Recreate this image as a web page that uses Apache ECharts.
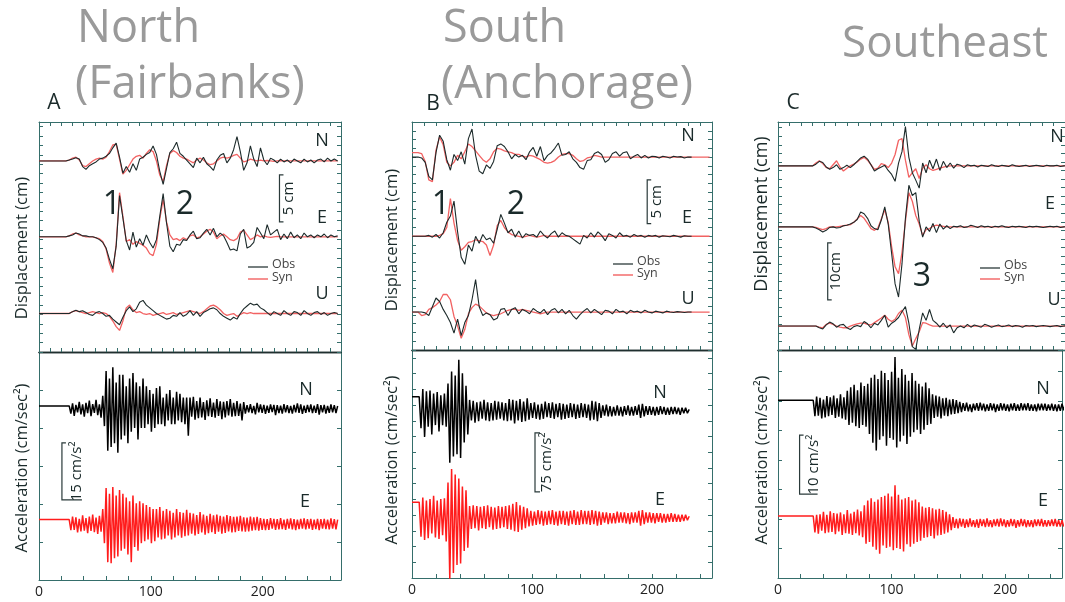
<!DOCTYPE html>
<html><head><meta charset="utf-8">
<script src="https://cdn.jsdelivr.net/npm/echarts@6/dist/echarts.min.js"></script>
<style>html,body{margin:0;padding:0;background:#fff}#c{width:1065px;height:602px}</style>
</head><body><div id="c"></div>
<script>
// ---------------- DATA ----------------
const titles = [["North", "(Fairbanks)"], ["South", "(Anchorage)"], ["Southeast"]];
const panelLetters = ["A", "B", "C"];
const xTickLabels = [0, 100, 200];
const dispLabels = ["N", "E", "U"];
const accLabels = ["N", "E"];
const phaseLabels = [["1", "2"], ["1", "2"], ["3"]];
const dispTitle = "Displacement (cm)";
const accTitle = "Acceleration (cm/sec\u00B2)";
const legendNames = ["Obs", "Syn"];
const scaleTexts = ["5 cm", "15 cm/s\u00B2", "5 cm", "75 cm/s\u00B2", "10cm", "10 cm/s\u00B2"];
const scaleValues = [5, 15, 5, 75, 10, 10];

// Displacement (cm), sampled every 3 s
const dispStartA = 24, dispStepA = 3;
const A_N_obs = [0,0.1,0.2,0.35,0.2,-0.6,-0.9,-0.5,-0.3,-0.1,0.2,0.3,0.5,0.8,1.4,1.9,0.4,-1.3,-0.6,-1.2,-0.3,-1.0,0.2,0.4,0.7,0.9,1.6,0.7,-1.1,-2.5,-0.8,0.9,1.3,2.0,0.8,0.5,0.1,-0.3,-0.7,0.3,-0.2,0.4,-0.3,-0.6,-1.0,0.1,0.6,0.8,-0.2,0.3,1.2,2.6,1.0,-1.0,-0.2,1.6,0.2,-0.6,1.4,0.1,-0.4,0.3,0.1,-0.2,0.2,-0.1,0.1,-0.2,0.2,0,-0.2,0.2,-0.1,0.1,-0.2,0.1,0.2,-0.1,0.3,0,0.2,0];
const A_N_syn = [0,0.1,0.3,0.4,0.1,-0.5,-0.6,-0.3,0,0.2,0.3,0.2,0.4,1.0,1.7,1.8,0.2,-1.4,-1.0,-0.4,0.2,0.5,0.6,0.3,0.8,1.2,1.0,0,-1.5,-2.2,-0.5,0.8,1.1,0.9,0.5,0.3,0.2,0,-0.2,0.1,0.3,0.1,-0.2,-0.4,-0.3,0,0.3,0.4,0.3,0.4,0.6,0.7,0.3,-0.1,0,0.2,0.1,0,0.1,0,0.05,0,-0.05,0,0.05,0,0,0,0,0,0,0,0,0,0,0,0,0,0,0,0,0];
const A_E_obs = [0,0.1,0.2,0.4,0.3,0.1,0.1,0,0,-0.1,-0.3,-0.6,-1.2,-2.4,-3.4,-1.0,4.4,2.0,-0.4,-1.4,0.5,-1.1,-0.2,-0.9,0.2,-0.6,-1.2,-0.3,2.2,4.6,1.5,-1.0,-1.6,-0.8,-0.9,-0.3,-0.4,0.2,0.6,-0.2,-0.1,0.4,0.8,0.2,0.9,0,0.4,0.1,-0.6,-1.4,-1.3,-1.5,0.3,0.8,-1.2,-1.0,-0.6,1.0,0.4,-0.2,1.3,0.2,0.5,0.8,-0.3,0.3,-0.2,0.5,-0.1,0.2,-0.2,0.4,0,0.2,-0.1,0.2,0,0.3,-0.1,0.2,0,0.1];
const A_E_syn = [0,0.1,0.3,0.4,0.2,0.1,0,0,0,-0.1,-0.2,-0.5,-1.3,-2.8,-3.8,-0.8,4.7,2.2,-0.5,-0.3,-0.8,-0.5,-0.7,-0.9,-1.2,-1.8,-2.0,-0.8,1.9,4.0,1.6,0.2,-0.3,-0.2,-0.4,-0.1,-0.3,0.1,0.2,-0.1,0,0.3,0.6,0.8,0.5,-0.2,0.1,0.3,0,-0.3,-0.4,-0.2,0.5,0.7,0.2,-0.3,-0.1,0.2,0,0.1,0,-0.05,0,0.05,0,0,0,0,0,0,0,0,0,0,0,0,0,0,0,0,0,0];
const A_U_obs = [0,0,0.2,0.35,0.2,0.3,0.1,-0.1,-0.2,0.1,0.2,0,-0.3,-0.2,-0.6,-0.9,-1.2,-0.4,0.3,0.7,0.2,0.5,1.2,1.4,0.9,0.6,0.3,0,-0.2,-0.4,-0.6,-0.5,-0.2,-0.3,0.1,-0.3,-0.1,0.3,-0.2,0.2,-0.3,0.1,0.3,0.5,0.6,0.4,0,-0.3,-0.5,-0.7,-0.4,-0.6,0,0.5,0.8,1.1,0.9,1.0,0.6,0.4,0.1,-0.2,0.2,0,-0.2,0.3,0,-0.2,0.2,0.1,-0.2,0.3,0,-0.2,0.1,0.2,-0.1,0.1,-0.2,0,0.1,0];
const A_U_syn = [0,0,0.2,0.3,0.2,0.1,0,0.1,0.2,0.1,0,0.1,0,-0.3,-0.8,-1.4,-1.8,-0.8,0.6,0.9,0.4,0.1,0.2,0,-0.1,0,-0.2,-0.1,0,0.1,-0.1,0,0.1,-0.1,0,0.1,0.2,0.3,0.2,0.1,0,0.2,0.5,0.8,0.9,0.7,0.4,0,-0.2,-0.1,0,-0.3,-0.1,0.1,0,0.1,0,0,0,0,0,0,0,0,0,0,0,0,0,0,0,0,0,0,0,0,0,0,0,0,0,0];

const dispStartB = 5, dispStepB = 3;
const B_N_obs = [0,-0.1,-0.6,-2.2,-2.6,0.5,2.5,1.8,-0.3,-1.5,0.3,-0.4,0.6,-0.8,2.1,3.2,0.2,-1.6,-1.9,-0.9,-1.3,-0.5,1.3,1.5,1.2,0.6,-0.2,0.3,0,0.2,-0.3,0.6,1.1,0.1,1.2,-0.4,0.2,0.5,1.0,1.6,0.2,0.3,0.6,-0.2,-0.6,-1.2,-1.4,-0.4,-0.3,0.4,0.6,0.3,-0.6,-0.3,0.4,0.6,0.1,0.5,0.6,-0.2,0.1,0.3,-0.1,0.2,-0.1,0.1,0.05,-0.1,0.1,0,-0.1,0.1,0,0.05,-0.1,0,0];
const B_N_syn = [0.5,0.4,-0.5,-2.6,-2.8,0.8,2.3,1.4,-0.6,-1.0,-0.6,0.2,-0.2,0.6,1.5,1.2,0.7,0.2,-0.3,-0.6,-0.2,0.6,1.0,0.9,0.7,0.6,0.5,0.3,0.3,0.1,0,0.2,0.1,-0.1,-0.3,-0.6,-0.7,-0.6,-0.4,0,0.3,0.4,0.4,0.2,-0.2,-0.5,-0.4,-0.1,0,0.2,0.1,0,0,0,0,0,0,0,0,0,0,0,0,0,0,0,0,0,0,0,0,0,0,0,0,0,0,0,0,0,0,0];
const B_E_obs = [0,0,0,0.1,-0.1,0.2,-0.2,0.4,1.6,2.3,4.0,0.5,-2.4,-3.2,-1.0,-1.7,0,-0.8,0.2,-0.4,-0.2,-0.8,0.8,2.5,1.5,0.4,0.8,-0.1,0.6,-0.2,0.3,0.1,0.2,-0.1,0.6,0.1,-0.2,0.3,0.6,-0.1,0.4,0.1,0,-0.3,-0.6,-0.9,0.1,-0.2,0.4,-0.1,0.5,0.1,-0.5,0.3,0.1,-0.2,0.4,0,0.1,-0.1,0.2,0,0.1,-0.1,0.1,0,0.1,-0.1,0.05,0,-0.05,0.1,0,-0.1,0.05,0,0];
const B_E_syn = [0,0,0,0,0,0,0.1,0.3,1.0,4.3,1.5,-0.5,-1.6,-1.2,-0.7,-0.6,-0.4,-0.5,-0.6,-1.0,-2.2,-1.0,1.2,1.8,1.0,0.5,0.2,0.1,0,-0.1,0,0.1,0,-0.1,0,0.1,0,0,0,0,0,0,0,0,0,0,0,0,0,0,0,0,0,0,0,0,0,0,0,0,0,0,0,0,0,0,0,0,0,0,0,0,0,0,0,0,0,0,0,0,0,0];
const B_U_obs = [0,0,-0.1,-0.4,0.6,1.6,1.2,0.3,-0.4,-1.2,-2.4,-0.8,-2.7,-1.2,-0.4,1.4,3.7,0.6,-0.4,-0.1,-0.3,-0.9,-0.7,0.3,0.4,-0.4,0.3,0.5,-0.2,0.3,0.1,-0.2,0.4,0.1,-0.1,0.3,-0.3,0.2,0.4,-0.1,0.3,-0.2,0.2,-0.4,-0.8,-0.3,0.1,0.4,-0.1,0.3,0,-0.3,0.2,0.1,-0.2,0.3,0,0.1,-0.2,0.2,0,0.1,-0.1,0.2,0,-0.1,0.1,0,-0.1,0.1,0,-0.05,0.05,0,-0.05,0,0];
const B_U_syn = [0,-0.4,-0.3,0.3,0.5,0.8,1.2,2.0,2.0,1.4,-0.5,-1.6,-3.0,-2.0,-0.2,0.5,0.9,0.7,0.3,-0.1,-0.3,-0.4,-0.3,-0.2,0,0.2,0.3,0.3,0.2,0.3,0.2,0.1,0,-0.1,-0.2,-0.1,0,0,0,0,0,0,0,0,0,0,0,0,0,0,0,0,0,0,0,0,0,0,0,0,0,0,0,0,0,0,0,0,0,0,0,0,0,0,0,0,0,0,0,0,0,0];

const dispStartC = 30, dispStepC = 3;
const C_N_obs = [0,0.3,0.8,0.6,-0.2,-0.6,-0.3,0.2,-0.6,-0.3,0.1,-0.3,0.2,0.8,1.4,1.7,1.2,0.2,-0.9,-0.5,-0.2,0.1,-0.8,-1.5,-2.7,0.5,2.5,6.9,1.5,-1.2,-2.5,-3.9,0.5,-1.2,1.0,-0.5,1.2,-0.8,0.8,-0.3,0.5,-0.4,0.3,0.1,-0.3,0.2,0,0.1,-0.2,0.1,0,-0.1,0.2,0,-0.1,0.1,0,-0.1,0.2,0,-0.1,0,0.1,-0.1,0,0.1,0,-0.1,0.1,0,0,0.1,-0.1,0,0.1];
const C_N_syn = [0,0.5,0.9,0.4,-0.3,-0.5,0.2,0.9,-0.2,-0.9,-0.4,0,0.3,0.7,1.2,1.5,1.0,0.2,-0.6,-0.4,0.4,0.2,-0.3,0.5,2.0,4.5,4.8,1.0,-2.0,-1.2,-0.5,-2.2,-0.4,0.2,-0.5,-0.8,-0.6,-0.4,-0.2,-0.1,0,0,0,0,0,0,0,0,0,0,0,0,0,0,0,0,0,0,0,0,0,0,0,0,0,0,0,0,0,0,0,0,0,0,0];
const C_E_obs = [0,-0.2,-0.5,-0.9,-0.6,-0.1,0,-0.2,-0.1,0.2,0.3,0.5,0.8,1.3,2.6,2.3,1.5,0.2,-0.3,-0.5,1.2,3.5,0.5,-4.7,-10.0,-12.3,-6.5,1.5,7.3,5.5,6.0,1.0,-1.8,0,-0.8,0.6,-1.0,0.5,-0.4,0.2,-0.3,0.1,0,0.2,-0.1,0,0.3,0.1,-0.1,0.2,0,0.1,-0.1,0.1,0,0.2,0,-0.1,0.1,0,0.1,0,-0.1,0.1,0,0.1,0,-0.1,0,0.1,0,0.1,-0.1,0,0.1];
const C_E_syn = [0,-0.1,-0.3,-0.5,-0.3,0,0,0,0.1,0.2,0.3,0.4,0.8,1.4,2.0,1.5,0.6,-0.3,-0.6,-0.2,1.4,3.0,0.8,-3.5,-7.0,-8.2,-4.5,1.0,6.0,4.5,2.0,0.5,-1.5,-0.5,-0.3,0.1,0.3,0.2,0.1,0,0,0,0,0,0,0,0,0,0,0,0,0,0,0,0,0,0,0,0,0,0,0,0,0,0,0,0,0,0,0,0,0,0,0,0];
const C_U_obs = [0,0,-0.3,-0.5,0.2,0.7,0.4,-0.2,0.2,0.3,-0.3,-0.6,-0.1,0.1,-0.1,0.8,0.4,-0.3,0.5,0.2,1.0,1.9,-0.2,0.5,0.9,1.5,2.5,3.4,0.5,-3.6,-4.1,-0.6,2.3,1.0,2.9,1.0,0.5,-0.2,0.5,-0.3,0.2,-1.2,-0.3,0,-0.3,0.3,-0.2,0.2,0,-0.2,0.3,0.1,-0.2,0,0.2,-0.1,0,0.2,-0.1,0.1,0,-0.2,0.1,0,0.1,-0.1,0,0.1,0,-0.1,0,0.1,-0.1,0,0.1];
const C_U_syn = [0,0,-0.2,-0.3,0.3,0.5,0.3,0,-0.2,-0.3,-0.3,0,0.2,0.4,0.5,0.5,0.3,0.2,0.6,1.0,1.4,1.9,1.2,0.8,1.2,2.2,2.8,1.5,-1.5,-3.5,-2.2,-1.0,0.6,0.5,0.2,0,0,0,0,0,0,0,0,0,0,0,0,0,0,0,0,0,0,0,0,0,0,0,0,0,0,0,0,0,0,0,0,0,0,0,0,0,0,0,0];

// Acceleration (cm/s^2), sampled every 1.5 s
const accStep = 1.5;
const accStartA = 27, accStartB = 6, accStartC = 31;
const A_acc_N = [0.8,-1.2,1.5,-1.8,1.1,-0.9,1.9,-1.4,1.2,-2.0,1.6,-1.1,2.2,-1.9,1.3,-1.0,2.4,-1.6,1.2,-2.3,
  3.5,-4.5,
  10,-11,8,-10,11,-9,7,-11.5,9,-8,
  9,-7,6,-9,8,-6,9.5,-5,7,-8,6,-5,8,
  -5,6,-4,5,-6,4,-5,5.5,-4,6,
  -4,3,-4.5,4,-3,5,-4,3,-4,4.5,-3,4,-3.5,3,-4,3,-7,
  3,-2,3.2,-2.8,2.1,-2.4,3,-2.2,1.8,-2.9,2.3,-1.9,2.8,-2.1,1.7,-2.3,2.6,-1.8,2.0,-2.7,1.9,-2.2,2.1,-1.7,2.6,-2.0,1.6,-1.9,2.1,-1.8,1.4,-3.0,1.8,
  -1.2,1.0,-0.9,1.3,-1.1,0.8,-1.4,1.6,-0.9,1.2,-1.0,1.1,-1.3,0.9,-1.0,1.2,-0.8,1.1,-1.6,1.0,-1.1,0.9,-1.2,1.3,-0.9,1.0,-1.1,0.8,-1.2,1.1,-0.9,1.5,-1.0,1.2,-1.3,0.9,-1.0,1.1,-0.8,1.2,-1.1,0.9,-1.0,1.3,-1.5,1.0,-0.9,1.1,-1.2,0.8,-1.0,1.2,-0.9,1.0,-1.1,0.8];
const A_acc_E = [1.2,-1.6,2.0,-1.5,1.8,-2.2,1.4,-1.9,2.3,-1.7,1.6,-2.4,2.0,-1.8,2.5,-2.1,1.7,-2.6,2.2,-2.0,
  4,-5,
  9.5,-10,8,-10.3,9.8,-9,7.5,-8.5,9,-7,
  8,-6.5,7,-8,6,-10,7.5,-6,5.5,-7,6,-5,5.5,
  -4.5,5,-4,4.5,-5,4,-4.5,4,-3.5,4.5,
  -4,3.5,-3.8,4,-3,3.5,-4,3,-3.5,4,-3,3.2,-3.6,3,-3.2,3.8,-3,
  3,-2.5,2.8,-3,2.4,-2.6,3.2,-2.2,2.5,-2.8,2.2,-2.4,2.7,-2.1,2.3,-2.6,2.5,-2.0,2.2,-2.5,2.0,-2.3,2.4,-1.9,2.1,-2.2,1.9,-2.1,2.0,-1.8,2.2,-1.9,1.8,-2.0,1.7,-1.9,2.0,-1.7,1.8,-1.6,1.9,-1.7,1.6,
  -1.5,1.4,-1.6,1.3,-1.5,1.6,-1.2,1.4,-1.5,1.3,-1.4,1.6,-1.3,1.2,-1.5,1.4,-1.2,1.5,-1.4,1.3,-1.6,1.2,-1.3,1.4,-1.2,1.5,-1.4,1.3,-1.2,1.4,-1.5,1.2,-1.3,1.4,-1.6,1.3,-1.2,1.4,-1.3,1.2,-1.4,1.5,-1.2,1.3,-1.4,1.2];
const B_acc_N = [18,-22,28,-33,25,-20,26,-30,22,-18,24,-26,20,
  -18,22,-20,
  35,-66,50,-58,45,-55,65,-60,48,
  -40,32,-30,
  14,-12,13,-15,11,-13,12,-10,14,-12,11,-13,10,-12,13,-11,12,-10,11,-12,10,
  -13,15,-12,14,-16,13,-12,15,-14,12,-13,16,-11,
  10,-9,11,-10,8,-11,9,-10,12,-8,10,-9,11,-10,9,-8,10,-11,9,-10,8,-9,10,-8,9,-10,8,-9,10,-8,9,-9,8,
  -12,13,-11,12,-13,10,-9,
  7,-6,8,-7,6,-7,5,-6,7,-6,5,-7,6,-5,7,-6,5,-6,6,-5,8,-9,9,-7,6,-5,6,-5,5,-6,5,-5,6,-4,5,-5,4,-5,5,-4,5,-4,4,-5,4,-3,4,-3,2];
const B_acc_E = [20,-24,26,-28,22,-26,24,-20,28,-25,22,-27,24,
  -22,25,-30,
  45,-79,62,-70,55,-60,50,-58,40,
  -42,35,-38,
  15,-14,16,-13,15,-16,14,-13,15,-14,16,-12,14,-15,13,-14,15,-13,14,-12,15,
  -14,16,-15,18,-17,20,-18,16,-15,14,-13,12,-11,
  9,-10,8,-9,10,-8,9,-10,8,-9,9,-8,10,-9,8,-10,9,-8,9,-9,8,-10,9,-8,10,-9,8,-9,10,-8,9,-8,9,
  -9,10,-8,9,-10,8,-9,
  7,-6,7,-8,6,-7,6,-7,8,-6,7,-6,7,-7,6,-8,7,-6,7,-6,9,-10,10,-8,7,-6,7,-6,6,-7,6,-5,6,-6,5,-6,5,-5,6,-5,5,-5,4,-5,4,-4,4,-3,2];
const C_acc_N = [1.2,-1.5,1.8,-1.4,1.6,-1.9,1.3,-1.7,1.9,-1.5,1.7,-1.3,2.0,-1.8,1.5,-1.6,2.2,-1.9,1.7,-2.1,
  2.8,-3.0,3.4,-2.6,3.8,-3.2,2.9,-3.5,4.2,-3.0,3.6,-3.3,4.0,
  -4.5,5.0,-6.0,5.5,-7.3,4.8,-5.5,6.2,-4.9,5.8,-6.5,4.6,-5.2,6.0,-5.5,8.5,-6.8,5.0,-5.8,6.5,-4.8,5.5,-6.2,4.5,-5.0,5.8,-4.2,
  4.5,-3.8,4.0,-4.5,3.5,-3.8,4.2,-3.0,3.2,-2.8,
  2.2,-1.8,2.0,-1.6,1.8,-1.9,1.5,-1.4,1.6,-1.5,1.3,-1.2,1.4,-1.1,1.2,-1.0,0.9,
  -0.8,0.7,-0.6,0.8,-0.7,0.5,-0.8,0.6,-0.5,0.7,-0.6,0.8,-0.5,0.6,-0.7,0.5,-0.6,0.7,-0.5,0.6,-0.8,0.5,-0.6,0.7,-0.5,0.6,-0.6,0.5,-0.7,0.6,-0.5,0.7,-0.6,0.5,-0.6,0.7,-0.5,0.6,-0.5,0.7,-0.6,0.5,-0.6,0.5,-0.7,0.6,-0.5,0.6,-0.5,0.6,-0.6,0.5,-0.5,0.6,
  -0.6,0.5,-0.7,0.5,-0.6,0.6,-0.5,0.6,-0.5,0.5];
const C_acc_E = [1.2,-1.6,1.4,-1.8,1.5,-1.3,1.9,-1.7,1.4,-1.6,2.0,-1.5,1.7,-1.9,1.6,-1.4,1.8,-2.0,1.5,-1.7,2.2,-1.8,1.6,-2.0,1.9,-1.7,2.3,-2.1,2.0,-2.4,
  3.0,-3.5,3.8,-3.2,4.2,-4.0,3.6,-4.5,4.0,-5.2,4.4,-3.8,4.6,-4.2,5.0,-4.0,4.5,-4.6,6.4,-4.2,4.8,-4.4,4.0,-4.8,4.2,-3.6,4.4,-4.0,3.8,-3.5,4.0,-3.2,3.5,-3.0,
  2.8,-2.5,2.6,-2.4,2.7,-2.2,2.5,-2.6,2.3,-2.1,2.4,-2.0,2.2,-1.8,1.9,-1.6,1.5,-1.2,1.0,
  -0.8,0.7,-0.9,0.8,-0.6,0.7,-0.8,0.6,-0.7,0.8,-0.6,0.5,-0.7,0.6,-0.8,0.7,-0.5,0.6,-0.7,0.8,-0.6,0.5,-0.7,0.6,-0.5,0.7,-0.6,0.8,-0.5,0.6,-0.7,0.5,-0.6,0.7,-0.5,0.6,-0.8,0.5,-0.6,0.7,-0.5,0.6,-0.7,0.5,-0.6,0.5,-0.7,0.6,-0.5,0.6,-0.5,0.7,-0.6,0.5,-0.6,0.5,-0.5,
  0.6,-0.5,0.7,-0.6,0.5,-0.6,0.5,-0.6];

// ---------------- LAYOUT / STYLE ----------------
const FONT = '"Open Sans", "DejaVu Sans", sans-serif';
const BOX = '#356e6b', SEP = '#1f2f2f';
const OBS = '#1c2a2a', SYN = '#f26262', ACC_N = '#000000', ACC_E = '#ff1c1c';

// grid geometry: [left, top, width, height]
const grids = [
  [39, 122, 302, 230], [39, 352, 302, 228],
  [412, 122, 300, 228], [412, 350, 300, 228],
  [778, 122, 300, 228], [778, 350, 300, 228]
];
const xMax = [270, 270, 250, 250, 250, 250];
const yMax = [24.5, 60, 26, 290, 40, 38.6];
const yInt = [1, 10, 1, 20, 1.5, 5];
// trace baselines in axis units
const dispOff = [[20.35, 12.27, 4.1], [22.0, 12.97, 4.33], [32.3, 21.6, 4.2]];
const accOff = [[45, 14.7], [212.5, 76.5], [28.9, 9.3]];

const chart = echarts.init(document.getElementById('c'), null, {renderer: 'canvas'});

const gridOpt = [], xAxes = [], yAxes = [];
grids.forEach((g, i) => {
  const isAcc = i % 2 === 1;
  gridOpt.push({left: g[0], top: g[1], width: g[2], height: g[3], containLabel: false});
  const tick = {show: true, inside: true, length: 4, lineStyle: {color: BOX, width: 1}};
  xAxes.push({
    type: 'value', gridIndex: i, position: 'bottom', min: 0, max: xMax[i],
    interval: isAcc ? 20 : 10,
    axisLine: {show: true, onZero: false, lineStyle: {color: isAcc ? BOX : SEP, width: isAcc ? 1 : 1.3}},
    axisTick: tick,
    axisLabel: {show: isAcc, color: '#222', fontSize: 14, fontFamily: FONT, margin: 5,
      formatter: v => (xTickLabels.indexOf(v) >= 0 ? String(v) : '')},
    splitLine: {show: false}
  });
  xAxes.push({
    type: 'value', gridIndex: i, position: 'top', min: 0, max: xMax[i], interval: 10,
    axisLine: {show: true, onZero: false, lineStyle: {color: isAcc ? SEP : BOX, width: isAcc ? 1.3 : 1}},
    axisTick: Object.assign({}, tick, {show: !isAcc}),
    axisLabel: {show: false}, splitLine: {show: false}
  });
  ['left', 'right'].forEach(pos => {
    yAxes.push({
      type: 'value', gridIndex: i, position: pos, min: 0, max: yMax[i], interval: yInt[i],
      axisLine: {show: true, onZero: false, lineStyle: {color: BOX, width: 1}},
      axisTick: tick, axisLabel: {show: false}, splitLine: {show: false}
    });
  });
});

function trace(t0, dt, vals, off) {
  const d = [[0, vals[0] + off]];
  vals.forEach((v, k) => d.push([+(t0 + k * dt).toFixed(2), v + off]));
  return d;
}
function line(gi, data, color, width, z) {
  return {type: 'line', xAxisIndex: 2 * gi, yAxisIndex: 2 * gi, data, symbol: 'none', showSymbol: false,
    lineStyle: {color, width, join: 'bevel'}, z, silent: true, animation: false, clip: true};
}

const disp = [
  {t0: dispStartA, dt: dispStepA, obs: [A_N_obs, A_E_obs, A_U_obs], syn: [A_N_syn, A_E_syn, A_U_syn]},
  {t0: dispStartB, dt: dispStepB, obs: [B_N_obs, B_E_obs, B_U_obs], syn: [B_N_syn, B_E_syn, B_U_syn]},
  {t0: dispStartC, dt: dispStepC, obs: [C_N_obs, C_E_obs, C_U_obs], syn: [C_N_syn, C_E_syn, C_U_syn]}
];
const acc = [
  {t0: accStartA, n: A_acc_N, e: A_acc_E},
  {t0: accStartB, n: B_acc_N, e: B_acc_E},
  {t0: accStartC, n: C_acc_N, e: C_acc_E}
];

const series = [];
for (let p = 0; p < 3; p++) {
  const D = disp[p];
  for (let c = 0; c < 3; c++) {
    series.push(line(2 * p, trace(D.t0, D.dt, D.syn[c], dispOff[p][c]), SYN, 1.3, 2));
    series.push(line(2 * p, trace(D.t0, D.dt, D.obs[c], dispOff[p][c]), OBS, 1.1, 3));
  }
  const A = acc[p];
  series.push(line(2 * p + 1, trace(A.t0, accStep, A.n, accOff[p][0]), ACC_N, 1.5, 3));
  series.push(line(2 * p + 1, trace(A.t0, accStep, A.e, accOff[p][1]), ACC_E, 1.5, 3));
}

chart.setOption({
  backgroundColor: '#ffffff',
  animation: false,
  grid: gridOpt, xAxis: xAxes, yAxis: yAxes, series
});

// ---------------- ANNOTATIONS ----------------
function txt(s, x, y, size, color, opts) {
  opts = opts || {};
  return {type: 'text', x, y, rotation: opts.rot || 0, z: 10, silent: true,
    style: {text: s, font: (opts.weight || 'normal') + ' ' + size + 'px ' + FONT, fill: color,
      textAlign: opts.align || 'center', align: opts.align || 'center',
      textVerticalAlign: 'middle', verticalAlign: 'middle'}};
}
const G = [];
const GREY = '#9a9a9a';
G.push(txt(titles[0][0], 77, 29, 45, GREY, {align: 'left'}));
G.push(txt(titles[0][1], 75, 85, 45, GREY, {align: 'left'}));
G.push(txt(titles[1][0], 443, 29, 45, GREY, {align: 'left'}));
G.push(txt(titles[1][1], 441, 85, 45, GREY, {align: 'left'}));
G.push(txt(titles[2][0], 842, 44, 44, GREY, {align: 'left'}));
G.push(txt(panelLetters[0], 54, 103, 21, '#1a2a2a'));
G.push(txt(panelLetters[1], 433, 104, 21, '#1a2a2a'));
G.push(txt(panelLetters[2], 793, 103, 21, '#1a2a2a'));
const R = Math.PI / 2;
G.push(txt(dispTitle, 22, 248, 16.5, '#1a2a2a', {rot: R}));
G.push(txt(accTitle, 22, 468, 16.5, '#1a2a2a', {rot: R}));
G.push(txt(dispTitle, 392, 240, 16.5, '#1a2a2a', {rot: R}));
G.push(txt(accTitle, 392, 460, 16.5, '#1a2a2a', {rot: R}));
G.push(txt(dispTitle, 762, 214, 18, '#1a2a2a', {rot: R}));
G.push(txt(accTitle, 762, 460, 16.5, '#1a2a2a', {rot: R}));
const compPos = [
  [[322, 141], [322, 218], [322, 294]], [[688, 136], [687, 218], [688, 299]], [[1057, 137], [1050, 204], [1054, 300]]
];
const accPos = [[[306, 390], [305, 502]], [[660, 393], [660, 500]], [[1043, 389], [1043, 501]]];
for (let p = 0; p < 3; p++) {
  dispLabels.forEach((s, c) => G.push(txt(s, compPos[p][c][0], compPos[p][c][1], 18, '#1a2a2a')));
  accLabels.forEach((s, c) => G.push(txt(s, accPos[p][c][0], accPos[p][c][1], 18, '#1a2a2a')));
}
G.push(txt(phaseLabels[0][0], 112, 205, 32, '#1a2a2a'));
G.push(txt(phaseLabels[0][1], 185, 205, 32, '#1a2a2a'));
G.push(txt(phaseLabels[1][0], 441, 205, 32, '#1a2a2a'));
G.push(txt(phaseLabels[1][1], 516, 205, 32, '#1a2a2a'));
G.push(txt(phaseLabels[2][0], 922, 277, 32, '#1a2a2a'));
const legPos = [[248, 267, 279], [613, 264, 275], [980, 268, 279]];
legPos.forEach(L => {
  G.push({type: 'line', silent: true, z: 10, shape: {x1: L[0], y1: L[1], x2: L[0] + 20, y2: L[1]}, style: {stroke: OBS, lineWidth: 1.2}});
  G.push({type: 'line', silent: true, z: 10, shape: {x1: L[0], y1: L[2], x2: L[0] + 20, y2: L[2]}, style: {stroke: SYN, lineWidth: 1.4}});
  G.push(txt(legendNames[0], L[0] + 24, L[1] - 3, 12.5, '#444', {align: 'left'}));
  G.push(txt(legendNames[1], L[0] + 24, L[2] - 2, 12.5, '#444', {align: 'left'}));
});
const bars = [
  {g: 0, t: 215, y0: 13.86, dx: 9, top: 4, bot: 4},
  {g: 1, t: 20.5, y0: 21.1, dx: 15, top: 4, bot: 20},
  {g: 2, t: 196, y0: 14.4, dx: 10, top: 4, bot: 4},
  {g: 3, t: 102.5, y0: 109.6, dx: 12, top: 5, bot: 5},
  {g: 4, t: 43.3, y0: 8.8, dx: 8, top: 4, bot: 4},
  {g: 5, t: 19, y0: 14.2, dx: 14, top: 4, bot: 18}
];
bars.forEach((b, i) => {
  const fi = {xAxisIndex: 2 * b.g, yAxisIndex: 2 * b.g};
  const p0 = chart.convertToPixel(fi, [b.t, b.y0]);
  const p1 = chart.convertToPixel(fi, [b.t, b.y0 + scaleValues[i]]);
  G.push({type: 'polyline', silent: true, z: 10,
    shape: {points: [[p1[0] + b.top, p1[1]], [p1[0], p1[1]], [p0[0], p0[1]], [p0[0] + b.bot, p0[1]]]},
    style: {stroke: '#2a3a3a', lineWidth: 1.2, fill: null}});
  G.push(txt(scaleTexts[i], p0[0] + b.dx, (p0[1] + p1[1]) / 2, 15, '#1a2a2a', {rot: R}));
});

chart.setOption({graphic: G});
</script>
</body></html>
